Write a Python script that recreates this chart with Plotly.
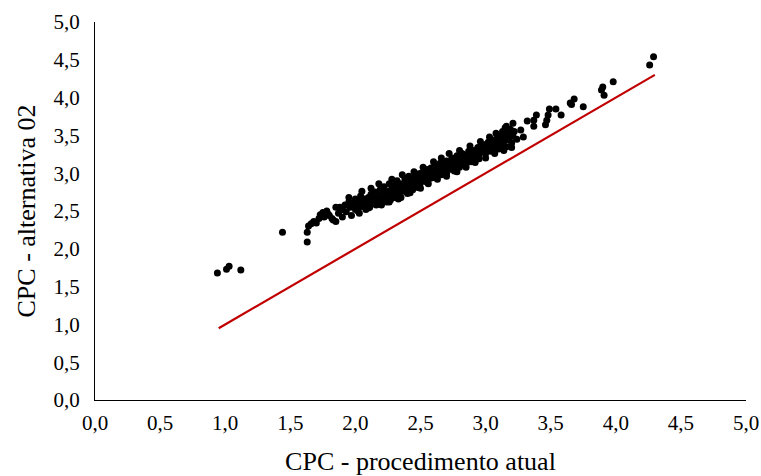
import plotly.graph_objects as go

# CPC - procedimento atual (x) vs CPC - alternativa 02 (y)
cpc_atual = [
    0.94, 1.01, 1.03, 1.12, 1.44, 1.63, 1.63, 1.64, 1.66, 1.68, 1.70,
    1.72, 1.73, 1.75, 1.76, 1.78, 1.79, 1.80, 1.82, 1.83, 1.85, 1.87, 1.88, 1.90,
    1.92, 1.93, 1.95, 1.96, 1.97, 1.98, 2.00, 2.00, 2.01, 2.02, 2.03, 2.04, 2.05, 2.06, 2.07, 2.08, 2.09, 2.10, 2.10,
    2.11, 2.12, 2.13, 2.14, 2.15, 2.15, 2.16, 2.17, 2.18, 2.19, 2.19, 2.20, 2.21, 2.22, 2.22, 2.23, 2.24, 2.25, 2.25, 2.26, 2.27, 2.27, 2.28, 2.29, 2.30, 2.30,
    2.31, 2.32, 2.32, 2.33, 2.34, 2.35, 2.35, 2.36, 2.37, 2.38, 2.38, 2.39, 2.40, 2.40, 2.41, 2.42, 2.43, 2.44, 2.44, 2.45, 2.46, 2.47, 2.47, 2.48, 2.49, 2.50, 2.50,
    2.51, 2.52, 2.53, 2.54, 2.55, 2.55, 2.56, 2.57, 2.58, 2.58, 2.59, 2.60, 2.61, 2.61, 2.62, 2.63, 2.64, 2.65, 2.65, 2.66, 2.67, 2.68, 2.68, 2.69, 2.70, 2.70,
    2.71, 2.72, 2.73, 2.74, 2.74, 2.75, 2.76, 2.77, 2.78, 2.78, 2.79, 2.80, 2.81, 2.82, 2.82, 2.83, 2.84, 2.85, 2.86, 2.86, 2.87, 2.88, 2.89, 2.90,
    2.91, 2.92, 2.93, 2.94, 2.95, 2.95, 2.96, 2.97, 2.98, 2.99, 3.00, 3.00, 3.01, 3.02, 3.03, 3.04, 3.05, 3.06, 3.06, 3.07, 3.08, 3.09, 3.10, 3.10,
    3.11, 3.12, 3.13, 3.13, 3.14, 3.15, 3.16, 3.16, 3.17, 3.18, 3.19, 3.20, 3.21, 3.21, 3.22, 3.24, 3.27, 3.29, 3.32,
    3.37, 3.37, 3.39, 3.46, 3.47, 3.48, 3.49, 3.54, 3.58, 3.65, 3.66, 3.68, 3.75, 3.89, 3.90, 3.91, 3.98, 4.26, 4.29,
    1.85, 1.95, 2.05, 2.12, 2.18, 2.28, 2.36, 2.45, 2.52, 2.60, 2.66, 2.72, 2.80, 2.88, 2.96, 3.03, 3.08, 3.15,
    1.90, 2.02, 2.10, 2.20, 2.26, 2.33, 2.42, 2.50, 2.56, 2.63, 2.70, 2.78, 2.85, 2.92, 3.00, 3.07, 3.14, 3.20,
    2.14, 2.24, 2.34, 2.44, 2.54, 2.64, 2.76, 2.86, 2.98, 3.12,
]
cpc_alt02 = [
    1.68, 1.73, 1.77, 1.72, 2.22, 2.09, 2.22, 2.30, 2.33, 2.36, 2.34,
    2.40, 2.45, 2.48, 2.42, 2.50, 2.46, 2.44, 2.40, 2.38, 2.36, 2.47, 2.55, 2.52,
    2.58, 2.49, 2.62, 2.55, 2.44, 2.60, 2.66, 2.52, 2.58, 2.63, 2.47, 2.70, 2.56, 2.61, 2.66, 2.52, 2.59, 2.68, 2.63,
    2.55, 2.72, 2.64, 2.60, 2.75, 2.67, 2.58, 2.70, 2.63, 2.78, 2.68, 2.60, 2.73, 2.66, 2.82, 2.70, 2.62, 2.76, 2.69, 2.86, 2.72, 2.65, 2.80, 2.74, 2.68, 2.84,
    2.77, 2.71, 2.90, 2.80, 2.74, 2.86, 2.68, 2.82, 2.76, 2.93, 2.85, 2.79, 2.73, 2.88, 2.96, 2.82, 2.90, 2.78, 2.86, 2.94, 2.84, 2.99, 2.89, 2.81, 2.93, 2.87, 3.00,
    2.95, 2.90, 3.02, 2.96, 2.88, 3.05, 2.99, 2.93, 3.07, 3.00, 2.94, 3.03, 3.10, 2.97, 3.04, 2.99, 3.08, 3.02, 3.13, 2.98, 3.06, 3.12, 3.03, 3.09, 3.00, 3.16,
    3.10, 3.05, 3.14, 3.20, 3.08, 3.12, 3.03, 3.17, 3.11, 3.23, 3.15, 3.08, 3.19, 3.13, 3.26, 3.17, 3.21, 3.12, 3.24, 3.18, 3.29, 3.20, 3.15, 3.25,
    3.30, 3.22, 3.27, 3.34, 3.25, 3.19, 3.30, 3.36, 3.28, 3.33, 3.38, 3.26, 3.31, 3.41, 3.35, 3.29, 3.38, 3.44, 3.33, 3.40, 3.36, 3.47, 3.39, 3.32,
    3.44, 3.50, 3.37, 3.55, 3.42, 3.47, 3.62, 3.35, 3.52, 3.44, 3.58, 3.40, 3.66, 3.49, 3.55, 3.45, 3.57, 3.48, 3.69,
    3.62, 3.70, 3.77, 3.64, 3.70, 3.77, 3.85, 3.85, 3.77, 3.93, 3.91, 3.98, 3.88, 4.10, 4.14, 4.03, 4.21, 4.43, 4.54,
    2.55, 2.68, 2.76, 2.80, 2.86, 2.92, 2.98, 3.02, 3.08, 3.15, 3.20, 3.26, 3.30, 3.36, 3.42, 3.48, 3.53, 3.60,
    2.42, 2.50, 2.54, 2.58, 2.62, 2.66, 2.74, 2.80, 2.86, 2.92, 2.96, 3.02, 3.08, 3.14, 3.20, 3.26, 3.30, 3.34,
    2.69, 2.75, 2.83, 2.91, 2.99, 3.06, 3.14, 3.22, 3.31, 3.40,
]

# reference line y = x
line_x = [0.95, 4.30]
line_y = [0.95, 4.30]

tick_vals = [0, 0.5, 1, 1.5, 2, 2.5, 3, 3.5, 4, 4.5, 5]
tick_text = ["0,0", "0,5", "1,0", "1,5", "2,0", "2,5", "3,0", "3,5", "4,0", "4,5", "5,0"]

fig = go.Figure()
fig.add_trace(go.Scatter(
    x=line_x, y=line_y, mode="lines",
    line=dict(color="#C00000", width=2.2), showlegend=False, hoverinfo="skip",
))
fig.add_trace(go.Scatter(
    x=cpc_atual, y=cpc_alt02, mode="markers",
    marker=dict(color="black", size=7), showlegend=False,
))

font_family = "Liberation Serif, Times New Roman, serif"
fig.update_layout(
    width=761, height=476,
    margin=dict(l=95, r=15, t=22, b=76),
    paper_bgcolor="white", plot_bgcolor="white",
    font=dict(family=font_family, color="black", size=21),
)
fig.update_xaxes(
    range=[0, 5], tickvals=tick_vals, ticktext=tick_text, automargin=False,
    showgrid=False, zeroline=False, showline=True, linecolor="black", linewidth=1,
    ticks="outside", ticklen=4, tickcolor="rgba(0,0,0,0)",
    tickfont=dict(size=21, family=font_family),
    title=dict(text="CPC - procedimento atual", font=dict(size=26, family=font_family), standoff=20),
)
fig.update_yaxes(
    range=[0, 5], tickvals=tick_vals, ticktext=tick_text, automargin=False,
    showgrid=False, zeroline=False, showline=True, linecolor="black", linewidth=1,
    ticks="outside", ticklen=10, tickcolor="rgba(0,0,0,0)",
    tickfont=dict(size=21, family=font_family),
    title=dict(text="CPC - alternativa 02", font=dict(size=26, family=font_family), standoff=10),
)

# remove the browser's default 8px body margin so the figure fills the window exactly
fig.write_html(
    "out.html",
    config={"displayModeBar": False},
    post_script="document.body.style.margin='0';document.body.style.overflow='hidden';",
)
